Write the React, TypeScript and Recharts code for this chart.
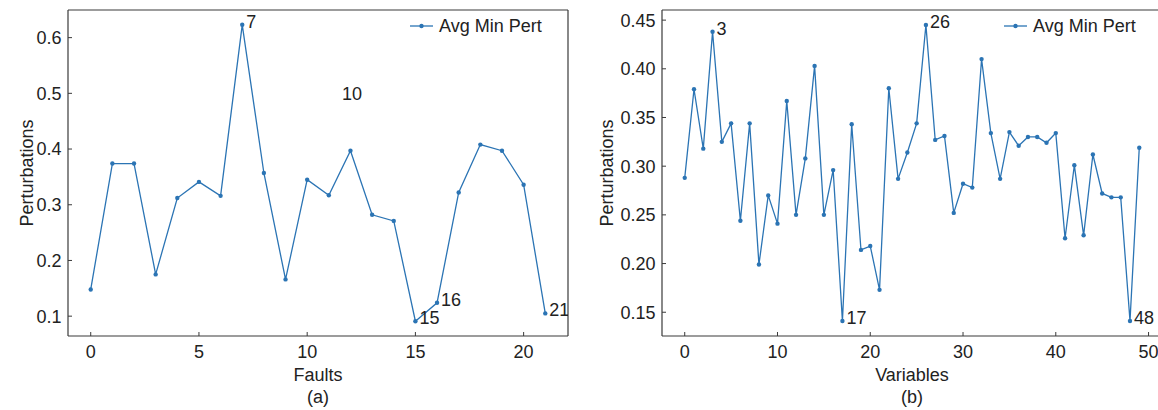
import React from 'react';
import { ComposedChart, Line, Scatter, XAxis, YAxis, Legend, Label, ReferenceLine } from 'recharts';

// ---------- data ----------
const faultIndex = [0, 1, 2, 3, 4, 5, 6, 7, 8, 9, 10, 11, 12, 13, 14, 15, 16, 17, 18, 19, 20, 21];
const faultPert = [
  0.148, 0.374, 0.374, 0.175, 0.312, 0.341, 0.316, 0.623, 0.357, 0.166, 0.345,
  0.317, 0.397, 0.282, 0.271, 0.091, 0.124, 0.322, 0.408, 0.397, 0.336, 0.105,
];
const faultNoteX = [7, 11.42, 15, 16, 21];
const faultNoteY = [0.623, 0.494, 0.091, 0.124, 0.105];
const faultNoteText = ['7', '10', '15', '16', '21'];
const faultXTicks = [0, 5, 10, 15, 20];
const faultYTicks = [0.1, 0.2, 0.3, 0.4, 0.5, 0.6];

const varPert = [
  0.288, 0.379, 0.318, 0.438, 0.325, 0.344, 0.244, 0.344, 0.199, 0.27,
  0.241, 0.367, 0.25, 0.308, 0.403, 0.25, 0.296, 0.141, 0.343, 0.214,
  0.218, 0.173, 0.38, 0.287, 0.314, 0.344, 0.445, 0.327, 0.331, 0.252,
  0.282, 0.278, 0.41, 0.334, 0.287, 0.335, 0.321, 0.33, 0.33, 0.324,
  0.334, 0.226, 0.301, 0.229, 0.312, 0.272, 0.268, 0.268, 0.141, 0.319,
];
const varIndex = varPert.map((_, i) => i);
const varNoteX = [3, 17, 26, 48];
const varNoteY = [0.438, 0.141, 0.445, 0.141];
const varNoteText = ['3', '17', '26', '48'];
const varXTicks = [0, 10, 20, 30, 40, 50];
const varYTicks = [0.15, 0.2, 0.25, 0.3, 0.35, 0.4, 0.45];

// ---------- styles ----------
const FONT = '"Liberation Sans", Arial, Helvetica, sans-serif';
const BLUE = '#2b74b4';
const AXIS = '#3a3a3a';
const TEXT = '#222222';
const FS = 18;

const NoteShape = (props: any) => {
  const { cx, cy, payload } = props;
  if (cx == null || cy == null) return null;
  return (
    <text x={cx + 4} y={cy + 3} fontSize={FS} fill={TEXT} fontFamily={FONT}>
      {payload.label}
    </text>
  );
};

const LegendBox = () => (
  <div
    style={{
      display: 'flex',
      alignItems: 'center',
      fontFamily: FONT,
      fontSize: FS,
      color: TEXT,
      lineHeight: '22px',
      whiteSpace: 'nowrap',
    }}
  >
    <svg width={23} height={10} style={{ marginRight: 6, display: 'block' }}>
      <line x1={0} y1={5} x2={23} y2={5} stroke={BLUE} strokeWidth={1.3} />
      <circle cx={11.5} cy={5} r={2.2} fill={BLUE} />
    </svg>
    <span>Avg Min Pert</span>
  </div>
);

const XTitles = (props: any) => {
  const { viewBox, title, sub } = props;
  const cx = viewBox.x + viewBox.width / 2;
  return (
    <g fontFamily={FONT} fontSize={FS} fill={TEXT}>
      <text x={cx} y={viewBox.y + 45} textAnchor="middle">{title}</text>
      <text x={cx} y={viewBox.y + 67} textAnchor="middle">{sub}</text>
    </g>
  );
};

const YTitle = (props: any) => {
  const { viewBox, title, bx } = props;
  const cy = viewBox.y + viewBox.height / 2;
  return (
    <text
      x={bx}
      y={cy}
      textAnchor="middle"
      transform={`rotate(-90, ${bx}, ${cy})`}
      fontFamily={FONT}
      fontSize={FS}
      fill={TEXT}
    >
      {title}
    </text>
  );
};

type PanelProps = {
  xs: number[];
  ys: number[];
  noteX: number[];
  noteY: number[];
  noteText: string[];
  xDomain: [number, number];
  yDomain: [number, number];
  xTicks: number[];
  yTicks: number[];
  yDigits: number;
  xTitle: string;
  sub: string;
  yTitleX: number;
};

const Panel = (p: PanelProps) => {
  const data = p.xs.map((x, i) => ({ x, y: p.ys[i] }));
  const notes = p.noteX.map((x, i) => ({ x, y: p.noteY[i], label: p.noteText[i] }));
  const tickStyle = { fill: TEXT, fontSize: FS, fontFamily: FONT };
  return (
    <ComposedChart
      width={580}
      height={410}
      data={data}
      margin={{ top: 10, right: 12, bottom: 0, left: 8 }}
    >
      <XAxis
        dataKey="x"
        type="number"
        domain={p.xDomain}
        ticks={p.xTicks}
        allowDataOverflow
        height={74}
        tickSize={-4}
        tickMargin={13.5}
        tick={tickStyle}
        stroke={AXIS}
        tickLine={{ stroke: AXIS }}
        axisLine={{ stroke: AXIS, strokeWidth: 1.2 }}
        interval={0}
      >
        <Label content={<XTitles title={p.xTitle} sub={p.sub} />} />
      </XAxis>
      <YAxis
        dataKey="y"
        type="number"
        domain={p.yDomain}
        ticks={p.yTicks}
        allowDataOverflow
        width={60}
        tickSize={-4}
        tickMargin={10.5}
        tick={tickStyle}
        tickFormatter={(v: number) => v.toFixed(p.yDigits)}
        stroke={AXIS}
        tickLine={{ stroke: AXIS }}
        axisLine={{ stroke: AXIS, strokeWidth: 1.2 }}
        interval={0}
      >
        <Label content={<YTitle title="Perturbations" bx={p.yTitleX} />} />
      </YAxis>
      <ReferenceLine y={p.yDomain[1]} stroke={AXIS} strokeWidth={1.2} ifOverflow="visible" />
      <ReferenceLine x={p.xDomain[1]} stroke={AXIS} strokeWidth={1.2} ifOverflow="visible" />
      <Legend
        layout="horizontal"
        verticalAlign="middle"
        align="center"
        content={<LegendBox />}
        wrapperStyle={{ left: 410, top: 15, width: 'auto', height: 22 }}
      />
      <Line
        dataKey="y"
        type="linear"
        stroke={BLUE}
        strokeWidth={1.3}
        dot={{ r: 2.2, fill: BLUE, stroke: BLUE, strokeWidth: 0 }}
        activeDot={false}
        isAnimationActive={false}
      />
      <Scatter data={notes} dataKey="y" shape={<NoteShape />} isAnimationActive={false} />
    </ComposedChart>
  );
};

export default function App() {
  return (
    <div
      style={{
        position: 'fixed',
        left: 0,
        top: 0,
        width: 1158,
        height: 410,
        overflow: 'hidden',
        background: '#fff',
      }}
    >
      <div style={{ position: 'absolute', left: 0, top: 0 }}>
        <Panel
          xs={faultIndex}
          ys={faultPert}
          noteX={faultNoteX}
          noteY={faultNoteY}
          noteText={faultNoteText}
          xDomain={[-1.05, 22.05]}
          yDomain={[0.0644, 0.6496]}
          xTicks={faultXTicks}
          yTicks={faultYTicks}
          yDigits={1}
          xTitle="Faults"
          sub="(a)"
          yTitleX={33}
        />
      </div>
      <div style={{ position: 'absolute', left: 594, top: 0 }}>
        <Panel
          xs={varIndex}
          ys={varPert}
          noteX={varNoteX}
          noteY={varNoteY}
          noteText={varNoteText}
          xDomain={[-2.45, 51.45]}
          yDomain={[0.1256, 0.4604]}
          xTicks={varXTicks}
          yTicks={varYTicks}
          yDigits={2}
          xTitle="Variables"
          sub="(b)"
          yTitleX={19}
        />
      </div>
    </div>
  );
}
